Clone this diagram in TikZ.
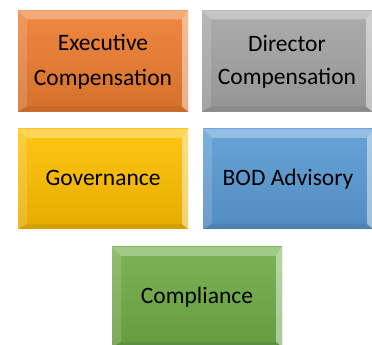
\documentclass[tikz,border=0pt]{standalone}
\usepackage{fontspec}
\setmainfont{Carlito}
\definecolor{cOrange}{HTML}{ED7D31}
\definecolor{cGray}{HTML}{A5A5A5}
\definecolor{cYellow}{HTML}{FFC000}
\definecolor{cBlue}{HTML}{5B9BD5}
\definecolor{cGreen}{HTML}{70AD47}
\newcommand\boxtext[1]{\begin{tabular}{@{}c@{}}#1\end{tabular}}
\tikzset{
  bevbox/.style={rectangle, minimum width=170pt, minimum height=101pt, inner sep=0pt,
    align=center, text=black, font=\fontsize{23.5}{35}\selectfont,
    top color=#1!92!white, bottom color=#1!90!black,
    path picture={
      \coordinate (bNW) at (path picture bounding box.north west);
      \coordinate (bNE) at (path picture bounding box.north east);
      \coordinate (bSW) at (path picture bounding box.south west);
      \coordinate (bSE) at (path picture bounding box.south east);
      \fill[white, opacity=.3] (bNW) -- (bNE) -- ([shift={(-6pt,-9pt)}]bNE) -- ([shift={(9pt,-9pt)}]bNW) -- cycle;
      \fill[white, opacity=.15] (bNW) -- ([shift={(9pt,-9pt)}]bNW) -- ([shift={(9pt,5pt)}]bSW) -- (bSW) -- cycle;
      \fill[white, opacity=.45] (bNE) -- ([shift={(-6pt,-9pt)}]bNE) -- ([shift={(-6pt,5pt)}]bSE) -- (bSE) -- cycle;
      \fill[black, opacity=.07] (bSW) -- ([shift={(9pt,5pt)}]bSW) -- ([shift={(-6pt,5pt)}]bSE) -- (bSE) -- cycle;
    }},
}
\begin{document}
\begin{tikzpicture}[x=1pt, y=1pt]
  \useasboundingbox[fill=white] (0,0) rectangle (372,345);
  \begin{scope}
    \clip (0,0) rectangle (372,345);
    \node[bevbox=cOrange] (exec) at (103,284) {\boxtext{Executive\\Compensation}};
    \node[bevbox=cGray] (dir) at (287,284) {\raisebox{-4pt}{\fontsize{23.5}{33}\selectfont\boxtext{Director\\Compensation}}};
    \node[bevbox=cYellow, minimum height=100pt] (gov) at (103,166) {\boxtext{Governance}};
    \node[bevbox=cBlue, minimum height=100pt] (bod) at (288,166) {\boxtext{BOD Advisory}};
    \node[bevbox=cGreen, minimum height=100pt] (comp) at (197,48) {\boxtext{Compliance}};
  \end{scope}
\end{tikzpicture}
\end{document}
